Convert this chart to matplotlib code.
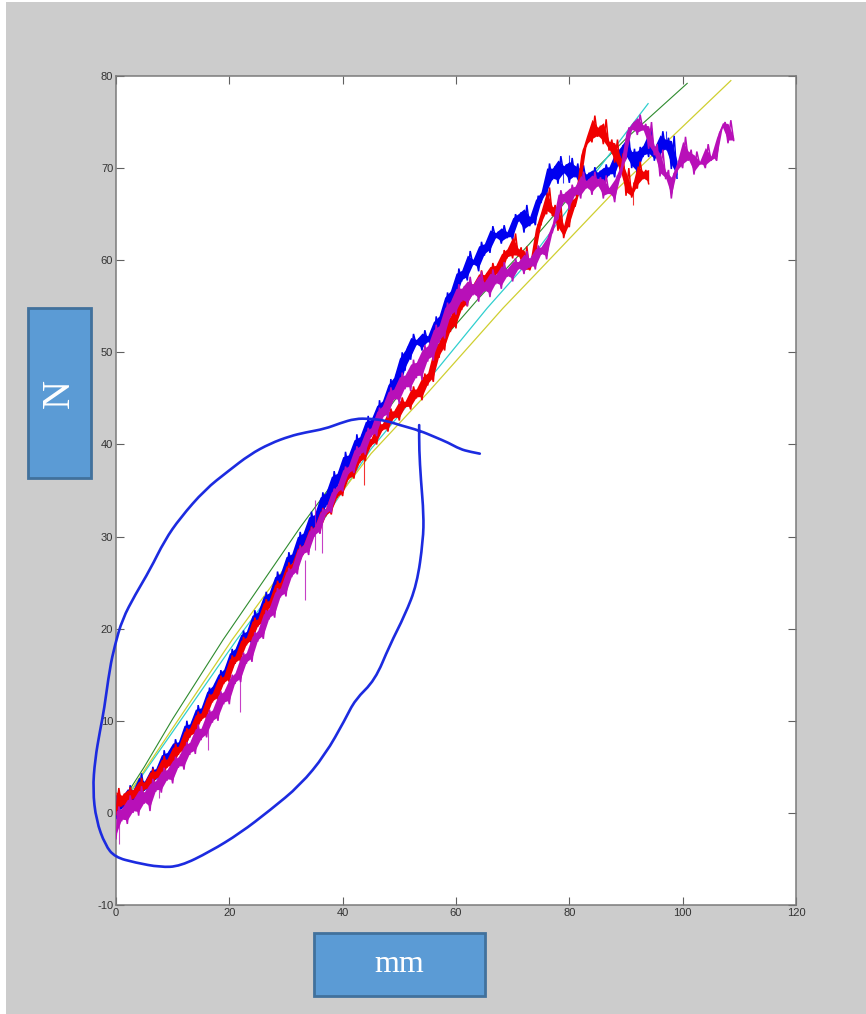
import matplotlib
matplotlib.use("Agg")
import matplotlib.pyplot as plt
from matplotlib.patches import Rectangle, PathPatch
from matplotlib.path import Path

plt.rcParams["axes.unicode_minus"] = False

# ---- data ----
blue_x = list(range(0, 100))
blue_lo = [-0.6,0.4,0.2,1.2,1.3,2.4,2.2,3.6,3.2,5.1,
           5.0,6.6,6.4,8.2,8.5,10.2,10.4,12.4,12.2,14.2,
           14.4,16.2,16.6,18.5,18.0,20.5,20.6,22.6,22.2,24.8,
           24.8,27.0,26.8,29.0,28.6,31.0,31.0,33.2,33.0,35.4,
           35.4,37.4,36.8,39.2,38.8,40.9,40.6,43.0,42.8,45.2,
           45.4,48.0,49.2,50.8,50.2,51.1,49.8,52.4,52.8,55.2,
           55.4,57.7,57.8,59.5,58.8,60.5,60.8,62.4,61.8,62.4,
           62.2,64.2,63.0,63.7,63.8,66.2,67.0,68.7,68.3,69.4,
           68.4,69.0,67.6,68.5,67.9,68.8,68.1,69.2,69.0,70.8,
           71.0,70.0,69.2,71.2,71.2,70.8,71.2,72.0,69.9,68.9]
blue_hi = [2.4,2.0,3.0,2.7,4.3,3.6,5.0,5.0,6.8,6.8,
           8.0,7.9,10.0,9.9,11.7,11.6,13.6,14.0,15.5,15.8,
           17.8,18.1,19.8,19.9,22.0,22.0,24.0,24.1,26.2,26.2,
           28.3,28.3,30.5,30.6,32.7,32.6,34.8,35.0,37.1,37.1,
           39.2,39.1,41.1,41.1,43.1,43.0,44.8,45.0,47.1,47.6,
           50.0,50.6,52.0,51.5,52.4,51.9,53.9,54.2,56.5,56.9,
           59.1,59.1,61.0,60.2,62.0,62.0,63.7,63.1,63.8,63.2,
           65.0,65.2,66.0,64.9,67.0,67.6,70.5,70.2,71.3,70.4,
           71.1,70.5,70.3,69.5,70.1,69.7,70.4,70.3,72.0,72.5,
           73.5,72.1,72.3,72.7,74.3,72.5,74.0,73.3,73.5,71.1]

red_x = list(range(0, 95))
red_lo = [-0.2,0.7,0.5,1.5,1.2,2.5,2.3,3.7,3.4,4.9,
          4.8,6.3,6.6,8.2,8.4,10.0,10.2,12.0,12.2,14.0,
          14.2,16.2,16.4,18.2,18.5,20.2,20.4,22.2,22.4,24.2,
          24.4,26.2,26.4,28.0,28.4,30.2,30.4,32.2,32.4,34.2,
          34.4,36.2,36.3,38.0,38.2,39.8,40.0,41.5,41.4,42.8,
          42.6,44.0,43.8,45.0,44.8,46.4,46.8,49.4,50.2,52.2,
          52.6,54.6,55.0,56.4,56.2,57.4,57.0,58.4,58.2,60.2,
          60.2,60.4,58.6,58.9,60.2,63.8,65.0,64.8,63.2,62.4,
          63.6,65.8,68.0,72.4,72.8,73.4,72.6,71.9,70.6,69.4,
          67.0,66.8,67.8,68.8,68.3]
red_hi = [2.7,2.1,2.8,2.7,3.8,3.5,4.8,4.7,6.2,6.0,
          7.5,7.4,9.2,9.4,11.0,11.0,12.9,13.2,14.9,15.0,
          17.1,17.2,19.1,19.2,21.2,21.2,23.2,23.2,25.2,25.2,
          27.2,27.2,29.1,29.2,31.1,31.2,33.1,33.2,35.1,35.2,
          37.0,37.0,38.9,39.0,40.9,40.8,42.5,42.4,43.9,43.8,
          45.1,44.8,46.3,46.2,47.7,48.0,50.7,51.4,53.7,54.2,
          56.1,56.0,57.7,57.6,58.9,58.6,59.7,59.6,61.1,61.4,
          62.9,61.4,61.5,59.8,63.9,65.6,67.9,66.0,66.1,64.0,
          66.7,67.0,72.0,73.6,75.7,74.6,75.3,73.1,73.1,71.6,
          70.0,68.0,70.7,69.8,70.1]

purple_x = list(range(0, 110))
purple_lo = [-2.8,-0.9,-1.2,0.0,-0.3,1.0,0.2,2.3,2.2,3.5,
             3.2,4.9,4.7,6.3,6.4,7.9,8.2,9.8,10.0,11.8,
             11.8,14.0,14.2,16.2,16.4,18.6,18.9,21.0,21.2,23.4,
             23.5,25.6,25.9,28.0,28.0,30.0,30.3,32.4,32.6,34.7,
             34.9,36.8,36.9,38.8,38.9,40.8,40.9,42.8,42.9,44.8,
             44.4,46.0,45.8,47.2,47.0,49.0,49.1,51.0,51.5,53.8,
             54.1,55.5,55.0,56.2,55.5,56.6,56.0,57.4,56.9,58.2,
             57.7,59.0,58.5,59.2,59.0,60.6,60.1,63.0,64.5,66.3,
             65.5,67.0,66.7,67.8,67.1,68.0,66.7,67.2,66.3,69.0,
             71.0,74.1,73.6,74.1,72.1,71.4,69.1,68.8,66.7,69.6,
             70.0,70.8,69.3,70.4,70.0,70.8,70.8,74.4,72.7,73.0]
purple_hi = [0.7,0.7,1.9,1.7,2.9,2.5,3.7,3.7,4.9,4.9,
             6.1,6.3,7.7,7.9,9.6,9.4,11.2,11.4,13.2,13.4,
             15.0,15.4,17.4,17.6,19.6,20.0,22.0,22.4,24.4,24.6,
             26.6,26.8,29.0,29.2,31.0,31.2,33.0,33.2,35.2,35.6,
             37.6,37.8,39.8,40.0,41.8,42.0,44.0,44.4,46.2,46.2,
             47.8,47.8,49.2,49.2,50.8,51.0,53.0,53.2,55.4,55.8,
             57.4,57.2,58.2,57.6,58.8,57.8,59.0,58.6,59.8,59.2,
             60.2,60.0,61.0,60.4,61.6,61.6,62.8,64.2,67.6,67.4,
             68.2,68.2,69.6,68.8,69.6,69.0,69.2,68.0,69.2,70.4,
             74.4,75.0,75.8,74.8,75.0,72.6,72.0,69.8,69.4,70.8,
             73.4,72.0,71.8,70.8,72.6,71.4,73.8,75.0,75.2,73.4]

# isolated spikes: x, low end, high end
purple_spike_x = [0.6, 7.6, 16.2, 21.9, 33.4, 35.2, 36.4]
purple_spike_lo = [-3.4, 1.6, 6.8, 10.9, 23.1, 28.5, 28.2]
purple_spike_hi = [0.0, 4.0, 9.5, 14.5, 27.5, 34.0, 31.5]
red_spike_x = [43.8, 91.2]
red_spike_lo = [35.6, 66.0]
red_spike_hi = [38.5, 68.5]
blue_spike_x = [78.9, 80.0, 97.0]
blue_spike_lo = [68.4, 70.0, 72.0]
blue_spike_hi = [70.0, 71.4, 74.0]

green_x = [0, 5, 10, 18.9, 32.5, 46.6, 55, 64.2, 73, 81.9, 90, 100.8]
green_y = [0.2, 5, 10.2, 18.8, 31, 42.7, 49.5, 56, 61.8, 68.2, 73.2, 79.2]
cyan_x = [0, 10, 21.3, 33, 45, 56.6, 65.5, 73, 81.9, 93.9]
cyan_y = [0, 8.8, 18.8, 28.5, 39.5, 48.1, 54.8, 60, 67.3, 77]
yellow_x = [0, 10, 20.5, 33, 45, 55, 68.3, 73.6, 87.7, 100, 108.5]
yellow_y = [0, 9.2, 18.8, 29.3, 39, 45.6, 54.8, 58.2, 67.3, 74.5, 79.5]

ink_x = [64.2,62.5,60.7,58.6,56.3,53.6,50.1,47.5,44.8,42.2,39.5,36.9,33.4,30.7,27.2,23.6,19.8,15.7,11.3,8.6,
         6.0,3.4,1.1,-0.2,-1.1,-2.1,-2.8,-3.7,-4.1,-3.5,-1.9,-0.2,3.4,7.8,11.3,16.6,21.9,27.2,32.5,36.9,
         40.4,42.2,45.7,48.3,51.0,53.1,54.2,54.3,53.8,53.5,53.5]
ink_y = [39.0,39.2,39.5,40.2,40.8,41.5,42.1,42.6,42.8,42.8,42.3,41.7,41.3,40.9,40.1,38.9,37.1,35.1,32.0,29.6,
         26.4,23.7,21.0,18.2,15.7,11.2,9.0,5.8,2.5,-0.8,-3.5,-4.8,-5.4,-5.9,-5.8,-4.2,-2.2,0.3,3.0,6.3,
         10.1,12.3,14.4,18.2,21.5,24.8,29.6,32.4,36.2,39.4,42.1]

xticks = [0, 20, 40, 60, 80, 100, 120]
yticks = [-10, 0, 10, 20, 30, 40, 50, 60, 70, 80]
x_label = "mm"
y_label = "N"

# ---- figure ----
W, H = 866, 1014
fig = plt.figure(figsize=(W / 100, H / 100), dpi=100, facecolor="white")
fig.add_artist(Rectangle((6 / W, 0), 1 - 6 / W, 1 - 2 / H, transform=fig.transFigure,
                         facecolor="#cccccc", edgecolor="none", zorder=-5))

ax = fig.add_axes([116 / W, 1 - 905 / H, (796 - 116) / W, (905 - 76) / H], facecolor="white")
ax.set_xlim(0, 120)
ax.set_ylim(-10, 80)

ax.plot(green_x, green_y, color="#2e8b2e", lw=0.8, zorder=2)
ax.plot(cyan_x, cyan_y, color="#2fcfcf", lw=0.9, zorder=2)
ax.plot(yellow_x, yellow_y, color="#cfcf30", lw=0.9, zorder=2)

series = [
    (blue_x, blue_lo, blue_hi, blue_spike_x, blue_spike_lo, blue_spike_hi, "#0000f0", 3),
    (red_x, red_lo, red_hi, red_spike_x, red_spike_lo, red_spike_hi, "#f00000", 4),
    (purple_x, purple_lo, purple_hi, purple_spike_x, purple_spike_lo, purple_spike_hi, "#b810b8", 5),
]
for x, lo, hi, sx, slo, shi, c, z in series:
    # solid core of the noisy trace
    core_lo = [l + 0.14 * (h - l) for l, h in zip(lo, hi)]
    core_hi = [h - 0.14 * (h - l) for l, h in zip(lo, hi)]
    ax.fill_between(x, core_lo, core_hi, color=c, lw=0, zorder=z)
    # trace itself swings between the low and high reading at each x
    zx, zy = [], []
    for xi, l, h in zip(x, lo, hi):
        zx += [xi, xi + 0.5]
        zy += [l, h]
    ax.plot(zx[:-1], zy[:-1], color=c, lw=1.1, zorder=z, solid_joinstyle="miter")
    ax.vlines(sx, slo, shi, color=c, lw=0.8, alpha=0.8, zorder=z)

# smooth pen stroke through the traced control points
verts = [(ink_x[0], ink_y[0])]
codes = [Path.MOVETO]
for i in range(1, len(ink_x) - 1):
    mx = (ink_x[i] + ink_x[i + 1]) / 2
    my = (ink_y[i] + ink_y[i + 1]) / 2
    verts += [(ink_x[i], ink_y[i]), (mx, my)]
    codes += [Path.CURVE3, Path.CURVE3]
verts.append((ink_x[-1], ink_y[-1]))
codes.append(Path.LINETO)
ax.add_patch(PathPatch(Path(verts, codes), facecolor="none", edgecolor="#1c2be0", lw=1.9,
                       zorder=8, clip_on=False, capstyle="round"))

ax.set_xticks(xticks)
ax.set_yticks(yticks)
ax.tick_params(direction="in", length=6, width=0.8, color="#606060", top=True, right=True,
               labelsize=8, labelcolor="#333333", pad=2)
for lab in ax.get_xticklabels() + ax.get_yticklabels():
    lab.set_fontfamily("Liberation Sans")
for s in ax.spines.values():
    s.set_color("#7a7a7a")
    s.set_linewidth(1.1)

# ---- label boxes ----
def box(x0, y0, x1, y1, text, rot, size):
    fig.add_artist(Rectangle((x0 / W, 1 - y1 / H), (x1 - x0) / W, (y1 - y0) / H,
                             transform=fig.transFigure, facecolor="#5b9bd5",
                             edgecolor="#41719c", linewidth=2, zorder=6))
    fig.text((x0 + x1) / 2 / W, 1 - (y0 + y1) / 2 / H, text, color="white", rotation=rot,
             family="Liberation Serif", fontsize=size, ha="center", va="center", zorder=7)

box(28, 308, 91, 478, y_label, 90, 29)
box(314, 933, 485, 996, x_label, 0, 23)

fig.savefig("out.png", dpi=100, facecolor=fig.get_facecolor())
